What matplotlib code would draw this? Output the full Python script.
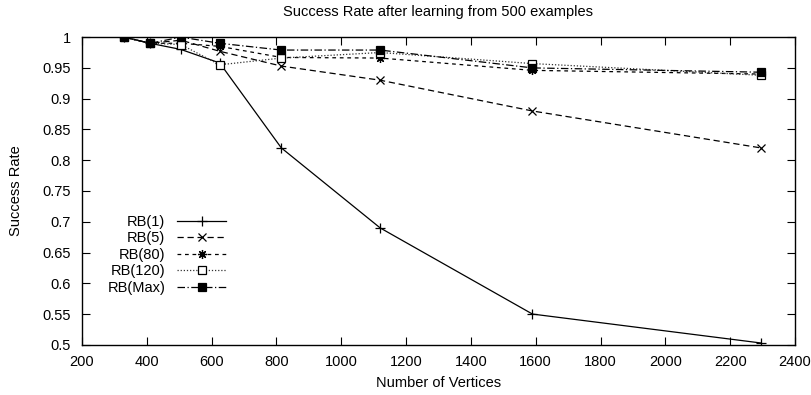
import numpy as np
import matplotlib
matplotlib.use('Agg')
import matplotlib.pyplot as plt

plt.rcParams['font.family'] = ['Liberation Sans', 'DejaVu Sans']

# number of vertices
vertices = [330, 410, 505, 625, 815, 1120, 1590, 2295]

rb_1 = [1.0, 0.99, 0.98, 0.958, 0.82, 0.69, 0.55, 0.503]
rb_5 = [1.0, 0.99, 0.995, 0.977, 0.953, 0.93, 0.88, 0.82]
rb_80 = [1.0, 0.99, 0.99, 0.985, 0.967, 0.966, 0.946, 0.94]
rb_120 = [1.0, 0.99, 0.988, 0.955, 0.966, 0.975, 0.957, 0.938]
rb_max = [1.0, 0.99, 1.0, 0.99, 0.979, 0.979, 0.95, 0.943]

labels = ['RB(1)', 'RB(5)', 'RB(80)', 'RB(120)', 'RB(Max)']

fig = plt.figure(figsize=(8.12, 3.95), dpi=100)
ax = fig.add_axes([0.101, 0.127, 0.878, 0.779])

lw = 0.9
ax.plot(vertices, rb_1, color='black', lw=lw, ls='-', marker='+', ms=6.5, mew=0.9, label=labels[0])
ax.plot(vertices, rb_5, color='black', lw=lw, ls=(0, (5, 3)), marker='x', ms=6, mew=0.9, label=labels[1])
ax.plot(vertices, rb_80, color='black', lw=lw, ls=(0, (3, 3)), marker=(8, 2, 0), ms=6.5, mew=0.9, label=labels[2])
ax.plot(vertices, rb_120, color='#333333', lw=lw, ls=(0, (1, 1.5)), marker='s', ms=5.5, mew=0.9,
        mfc='white', mec='black', label=labels[3])
ax.plot(vertices, rb_max, color='black', lw=lw, ls=(0, (6, 2, 1, 2)), marker='s', ms=5.5, mew=0.9,
        mfc='black', mec='black', label=labels[4])

ax.set_xlim(200, 2400)
ax.set_ylim(0.5, 1.0)
ax.set_xticks(np.arange(200, 2401, 200))
ax.set_yticks(np.arange(0.5, 1.001, 0.05))
ax.set_yticklabels(['0.5', '0.55', '0.6', '0.65', '0.7', '0.75', '0.8', '0.85', '0.9', '0.95', '1'])
ax.tick_params(direction='in', top=True, right=True, length=6, width=0.8, labelsize=10.5)
ax.tick_params(axis='x', pad=7)
ax.tick_params(axis='y', pad=8)
for s in ax.spines.values():
    s.set_linewidth(1.0)

ax.set_title('Success Rate after learning from 500 examples', fontsize=10.5, pad=15)
ax.set_xlabel('Number of Vertices', fontsize=10.5, labelpad=5)
ax.set_ylabel('Success Rate', fontsize=10.5, labelpad=14)

leg = ax.legend(loc='lower left', bbox_to_anchor=(0.017, 0.12), frameon=False, markerfirst=False,
                handlelength=3.4, handletextpad=0.8, labelspacing=0.17, fontsize=10.5,
                borderaxespad=0.5)

fig.savefig('out.png', dpi=100)
